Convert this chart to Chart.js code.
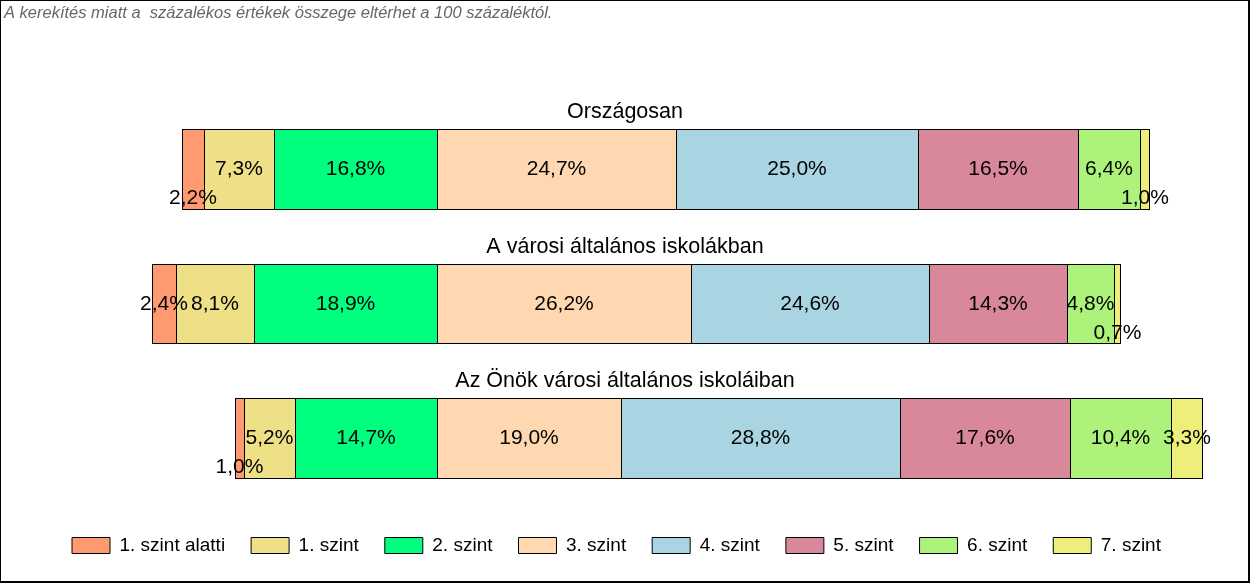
<!DOCTYPE html>
<html>
<head>
<meta charset="utf-8">
<script src="https://cdn.jsdelivr.net/npm/chart.js@4"></script>
<style>
  html, body { margin: 0; padding: 0; background: #fff; }
  #wrap { position: relative; width: 1250px; height: 583px; }
  #chart { display: block; }
  #frame {
    position: absolute; left: 0; top: 0; width: 1250px; height: 583px; box-sizing: border-box;
    border-top: 1px solid #000; border-left: 1px solid #000;
    border-right: 2px solid #000; border-bottom: 2px solid #000;
    pointer-events: none;
  }
</style>
</head>
<body>
<div id="wrap">
  <canvas id="chart" width="1250" height="583"></canvas>
  <div id="frame"></div>
</div>
<script>
// data
const groups = ["Országosan", "A városi általános iskolákban", "Az Önök városi általános iskoláiban"];
const levels = ["1. szint alatti", "1. szint", "2. szint", "3. szint", "4. szint", "5. szint", "6. szint", "7. szint"];
const belowLevel1 = [2.2, 2.4, 1.0];
const level1 = [7.3, 8.1, 5.2];
const level2 = [16.8, 18.9, 14.7];
const level3 = [24.7, 26.2, 19.0];
const level4 = [25.0, 24.6, 28.8];
const level5 = [16.5, 14.3, 17.6];
const level6 = [6.4, 4.8, 10.4];
const level7 = [1.0, 0.7, 3.3];
const note = "A kerekítés miatt a  százalékos értékek összege eltérhet a 100 százaléktól.";

const colors = ["#FF9A70", "#EEE086", "#00FF7F", "#FFD8B2", "#A9D4E2", "#D8889A", "#ADF27A", "#EEEE7A"];
const fontFamily = '"Liberation Sans", Arial, sans-serif';

// bars are lined up on the 2./3. szint boundary
const alignAt = 40;
const offsets = groups.map((g, i) => alignAt - (belowLevel1[i] + level1[i] + level2[i]));
const series = [belowLevel1, level1, level2, level3, level4, level5, level6, level7];

Chart.defaults.font.family = fontFamily;
Chart.defaults.color = "#000";

const datasets = [{
  label: "offset",
  data: offsets,
  backgroundColor: "rgba(0,0,0,0)",
  borderWidth: 0
}];
series.forEach((values, i) => {
  datasets.push({
    label: levels[i],
    data: values,
    backgroundColor: colors[i],
    borderColor: "#000",
    borderWidth: { top: 1, bottom: 1, left: 1, right: i === series.length - 1 ? 1 : 0 },
    borderSkipped: false,
    inflateAmount: 0
  });
});

// snap bar edges to whole pixels so the 1px outlines stay crisp
const snapBars = {
  id: "snapBars",
  beforeDatasetsDraw(chart) {
    chart.data.datasets.forEach((ds, d) => {
      chart.getDatasetMeta(d).data.forEach(el => {
        const top = Math.round(el.y - el.height / 2);
        const bottom = Math.round(el.y + el.height / 2);
        el.x = Math.round(el.x);
        el.base = Math.round(el.base);
        el.y = (top + bottom) / 2;
        el.height = bottom - top;
      });
    });
  }
};

const overlay = {
  id: "overlay",
  afterDatasetsDraw(chart) {
    const ctx = chart.ctx;
    ctx.save();

    // note at the top
    ctx.font = "italic 16.5px " + fontFamily;
    ctx.fillStyle = "#666";
    ctx.textAlign = "left";
    ctx.textBaseline = "alphabetic";
    ctx.fillText(note, 4, 18);

    groups.forEach((g, row) => {
      const first = chart.getDatasetMeta(1).data[row];
      // group title
      ctx.font = "21.5px " + fontFamily;
      ctx.fillStyle = "#000";
      ctx.textAlign = "center";
      ctx.textBaseline = "alphabetic";
      ctx.fillText(g, chart.width / 2, first.y - first.height / 2 - 11);

      // value labels
      ctx.font = "21px " + fontFamily;
      ctx.textBaseline = "middle";
      const items = [];
      for (let d = 1; d < chart.data.datasets.length; d++) {
        const bar = chart.getDatasetMeta(d).data[row];
        const v = chart.data.datasets[d].data[row];
        const text = v.toFixed(1).replace(".", ",") + "%";
        items.push({ v, text, x: (bar.x + bar.base) / 2, y: bar.y, w: ctx.measureText(text).width });
      }
      items.forEach((it, i) => {
        let shift = 0;
        [items[i - 1], items[i + 1]].forEach(nb => {
          if (nb && Math.abs(nb.x - it.x) < (nb.w + it.w) / 2 + 1 && it.v < nb.v) shift = 29;
        });
        ctx.fillText(it.text, it.x, it.y + shift);
      });
    });
    ctx.restore();
  }
};

new Chart(document.getElementById("chart"), {
  type: "bar",
  data: { labels: groups, datasets },
  options: {
    responsive: false,
    animation: false,
    indexAxis: "y",
    categoryPercentage: 1,
    barPercentage: 0.6,
    layout: { padding: { left: 46, right: 38.5, top: 102, bottom: 18 } },
    scales: {
      x: { stacked: true, display: false, min: -0.4, max: 120 },
      y: { stacked: true, display: false }
    },
    plugins: {
      tooltip: { enabled: false },
      legend: {
        position: "bottom",
        align: "start",
        title: { display: true, text: "", font: { size: 1, lineHeight: 1 }, padding: { top: 3, bottom: 0 } },
        labels: {
          boxWidth: 38,
          boxHeight: 16,
          padding: 26,
          color: "#000",
          font: { size: 19 },
          filter: item => item.datasetIndex > 0,
          generateLabels: chart => Chart.defaults.plugins.legend.labels.generateLabels(chart).map(item => {
            item.lineWidth = 1;
            item.strokeStyle = "#000";
            return item;
          })
        }
      }
    }
  },
  plugins: [snapBars, overlay]
});
</script>
</body>
</html>
